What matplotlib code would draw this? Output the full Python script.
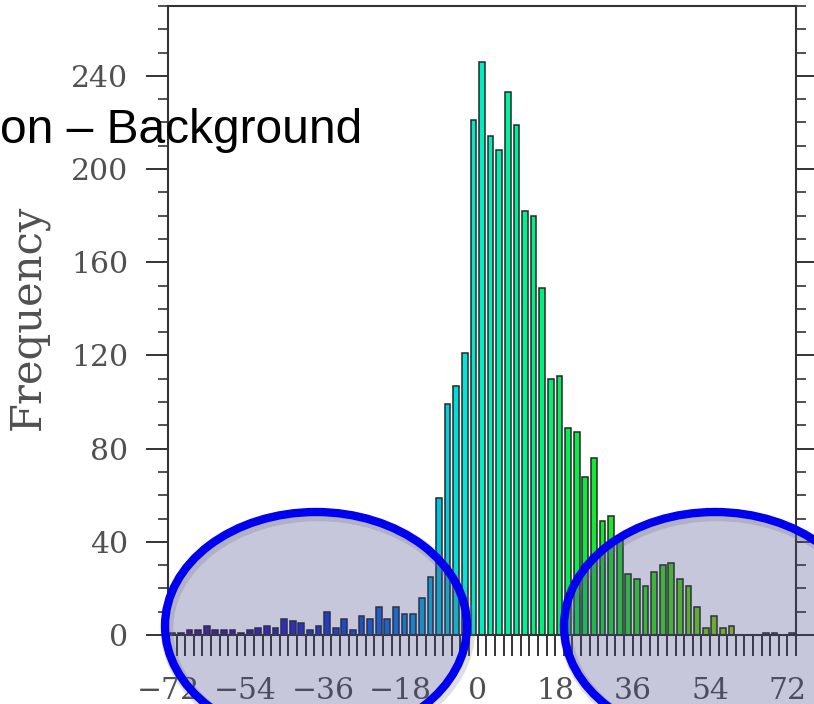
import matplotlib
matplotlib.use("Agg")
import matplotlib.pyplot as plt
import numpy as np
from matplotlib.colors import LinearSegmentedColormap
from matplotlib.patches import Ellipse
from matplotlib.ticker import MultipleLocator

# histogram counts, one per 2-unit bin from -72 to 74
counts = [
    1, 1, 2, 2, 4, 2, 2, 2, 1, 2, 3, 4, 3, 7, 6, 5, 2, 4, 10, 3,
    7, 2, 8, 7, 12, 7, 12, 9, 9, 16, 25, 59, 99, 107, 121, 221, 246, 214, 208, 233,
    219, 182, 180, 149, 110, 111, 89, 87, 68, 76, 49, 51, 41, 26, 24, 21, 27, 30, 31, 24,
    21, 12, 3, 8, 3, 4, 0, 0, 0, 1, 1, 0, 1,
]
bin_start, bin_stop, bin_width = -72, 74, 2
xtick_vals = [-72, -54, -36, -18, 0, 18, 36, 54, 72]
ytick_vals = [0, 40, 80, 120, 160, 200, 240]

y_title = "Frequency"
caption = "on \u2013 Background"

# blue -> cyan -> green ramp along the bins
ramp = [
    (0.00, "#5c0aa0"),
    (0.16, "#2a1ad2"),
    (0.25, "#0a3ae6"),
    (0.36, "#0a78e8"),
    (0.43, "#00c4e2"),
    (0.47, "#00e6dc"),
    (0.52, "#00f0b4"),
    (0.60, "#00f07c"),
    (0.68, "#12e834"),
    (0.80, "#44e010"),
    (0.90, "#8cd800"),
    (1.00, "#a8d000"),
]

# tail highlights in figure pixels: centre x, centre y, half width, half height
tail_marks = [(316, 626, 151, 114), (715, 626, 151, 114)]

W, H = 814, 704
plt.rcParams["font.family"] = ["DejaVu Serif", "DejaVu Sans"]

fig = plt.figure(figsize=(W / 100, H / 100), dpi=100)
ax = fig.add_axes([168 / W, 1 - 635 / H, (796 - 168) / W, (635 - 6) / H])

cmap = LinearSegmentedColormap.from_list("tails", ramp)
n = len(counts)
centers = bin_start + bin_width * (np.arange(n) + 0.5)
colors = cmap(np.arange(n) / (n - 1))
ax.bar(centers, counts, width=bin_width * 0.67, color=colors,
       edgecolor="#262626", linewidth=1.1, zorder=2)

ax.set_xlim(bin_start, bin_stop)
ax.set_ylim(0, 270)
ax.set_xticks(xtick_vals)
ax.xaxis.set_minor_locator(MultipleLocator(bin_width))
ax.set_yticks(ytick_vals)
ax.yaxis.set_minor_locator(MultipleLocator(10))

tick_col = "#333333"
text_col = "#505050"
ax.tick_params(axis="x", which="both", direction="out", length=15,
               width=1.4, color=tick_col, pad=15, labelsize=21.5, labelcolor=text_col)
ax.tick_params(axis="y", which="major", direction="out", length=15.5,
               width=1.4, color=tick_col, pad=13, labelsize=21.5, labelcolor=text_col,
               right=True)
ax.tick_params(axis="y", which="minor", direction="out", length=7.5,
               width=1.2, color=tick_col, right=True)
for sp in ax.spines.values():
    sp.set_color(tick_col)
    sp.set_linewidth(1.5)

fig.text(27.5 / W, 1 - 317 / H, y_title, rotation=90, ha="center", va="center",
         fontsize=30, color=text_col)

# overlay layer in pixel coordinates
ov = fig.add_axes([0, 0, 1, 1], zorder=10)
ov.set_xlim(0, W)
ov.set_ylim(H, 0)
ov.axis("off")

for cx, cy, a, b in tail_marks:
    ov.add_patch(Ellipse((cx + 2, cy + 3), 2 * a, 2 * b, facecolor="none",
                         edgecolor="#808080", linewidth=9, alpha=0.25))
    ov.add_patch(Ellipse((cx, cy), 2 * a, 2 * b, facecolor="#48488a",
                         alpha=0.3, edgecolor="none"))
    ov.add_patch(Ellipse((cx, cy), 2 * a, 2 * b, facecolor="none",
                         edgecolor="#0000f0", linewidth=6))

ov.text(0, 143, caption, family="Liberation Sans", fontsize=34.5,
        color="black", ha="left", va="baseline")

fig.savefig("out.png", dpi=100)
